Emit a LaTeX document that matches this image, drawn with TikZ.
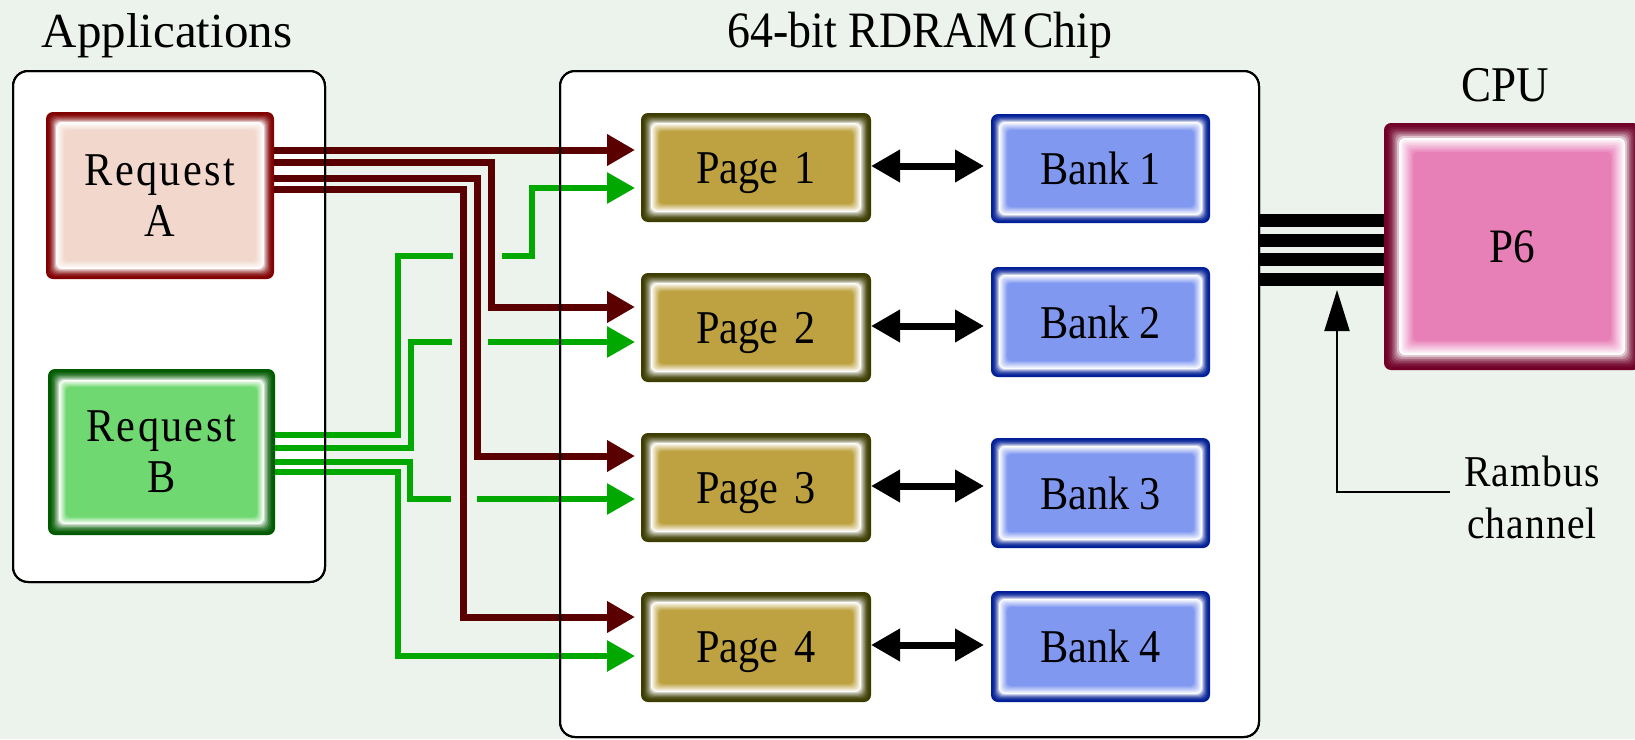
\documentclass[tikz,border=0pt]{standalone}
\usepackage{fontspec}
\setmainfont{Liberation Serif}
\newfontfamily\condfont{Liberation Serif}[FakeStretch=0.9]
\newfontfamily\spacedfont{Liberation Serif}[FakeStretch=0.9,LetterSpace=5]
\newfontfamily\spacedsmall{Liberation Serif}[FakeStretch=0.9,LetterSpace=2.5]
\usetikzlibrary{arrows.meta}
\definecolor{bgc}{RGB}{236,242,236}
\definecolor{reqaF}{RGB}{242,216,204}
\definecolor{reqaB}{RGB}{128,0,0}
\definecolor{reqbF}{RGB}{112,216,112}
\definecolor{reqbB}{RGB}{0,90,0}
\definecolor{pageF}{RGB}{190,162,66}
\definecolor{pageB}{RGB}{60,60,0}
\definecolor{bankF}{RGB}{128,152,240}
\definecolor{bankB}{RGB}{0,30,150}
\definecolor{cpuF}{RGB}{232,128,184}
\definecolor{cpuB}{RGB}{112,0,40}
\definecolor{lred}{RGB}{90,0,0}
\definecolor{lgreen}{RGB}{0,168,0}
\newcommand\bigtext{\condfont\fontsize{47}{51}\selectfont}
\newcommand\reqtext{\spacedfont\fontsize{47}{51}\selectfont}
\newcommand\mybox[7]{\node[#2, minimum width={#5-#3}, minimum height={#6-#4}] (#1) at ({(#3+#5)/2},{(#4+#6)/2}) {#7};}
\tikzset{
  bevel/.style n args={4}{fill=#1, rounded corners=7pt, inner sep=0pt, outer sep=0pt,
    align=center, font=\bigtext, text depth=0pt,
    path picture={
      \foreach \k in {1,...,8}{%
        \pgfmathsetmacro\ins{\k*#3/8}%
        \pgfmathsetmacro\pc{100*(1-(\k/8)^2)}%
        \fill[#1!\pc!white, rounded corners=6pt]
          ([shift={(\ins pt,\ins pt)}]path picture bounding box.south west) rectangle
          ([shift={(-\ins pt,-\ins pt)}]path picture bounding box.north east);
      }%
      \foreach \k in {1,...,8}{%
        \pgfmathsetmacro\ins{#3+\k*#4/8}%
        \pgfmathsetmacro\pc{100*\k/8}%
        \fill[#2!\pc!white, rounded corners=4pt]
          ([shift={(\ins pt,\ins pt)}]path picture bounding box.south west) rectangle
          ([shift={(-\ins pt,-\ins pt)}]path picture bounding box.north east);
      }%
    }},
  cont/.style={draw=black, line width=2pt, fill=white, rounded corners=15pt, inner sep=0pt, outer sep=0pt},
  contline/.style={draw=black, line width=2pt, rounded corners=15pt},
  title/.style={font=\fontsize{49}{52}\selectfont, anchor=base, inner sep=0pt},
  redln/.style={draw=lred, line width=7pt},
  grnln/.style={draw=lgreen, line width=6pt},
  tipr/.style={-{Triangle[length=28pt,width=30pt]}, shorten >=6pt},
  dbl/.style={line width=7pt, {Triangle[length=29pt,width=31pt]}-{Triangle[length=29pt,width=31pt]}, shorten >=7pt},
  busln/.style={line width=13pt, draw=black},
}
\begin{document}
\begin{tikzpicture}[x=1pt,y=-1pt]
\useasboundingbox (0,0) rectangle (1635,739);
\clip (0,0) rectangle (1635,739);
\fill[bgc] (0,0) rectangle (1635,739);

% containers
\mybox{apps}{cont}{13}{71}{325}{582}{}
\mybox{rdram}{cont}{560}{71}{1259}{737}{}

% titles
\node[title] (appstitle) at (167,47) {Applications};
\node[title, font=\condfont\fontsize{51}{52}\selectfont] (rdramtitle) at (920,47) {64-bit RDRAM\hspace{6pt}Chip};
\node[title, font=\condfont\fontsize{50}{52}\selectfont] (cputitle) at (1505,101) {CPU};

% request boxes
\mybox{reqa}{bevel={reqaB}{reqaF}{10}{8}, font=\reqtext}{46}{112}{274}{279}{Request\\A}
\mybox{reqb}{bevel={reqbB}{reqbF}{11}{7}, font=\reqtext}{48}{369}{275}{535}{Request\\B}

% pages
\mybox{page1}{bevel={pageB}{pageF}{10}{8}}{641}{113}{871}{222}{Page\hspace{6pt} 1}
\mybox{page2}{bevel={pageB}{pageF}{10}{8}}{641}{273}{871}{382}{Page\hspace{6pt} 2}
\mybox{page3}{bevel={pageB}{pageF}{10}{8}}{641}{433}{871}{542}{Page\hspace{6pt} 3}
\mybox{page4}{bevel={pageB}{pageF}{10}{8}}{641}{592}{871}{702}{Page\hspace{6pt} 4}

% banks
\mybox{bank1}{bevel={bankB}{bankF}{8}{8}}{991}{114}{1210}{223}{Bank 1}
\mybox{bank2}{bevel={bankB}{bankF}{8}{8}}{991}{267}{1210}{377}{Bank 2}
\mybox{bank3}{bevel={bankB}{bankF}{8}{8}}{991}{438}{1210}{548}{Bank 3}
\mybox{bank4}{bevel={bankB}{bankF}{8}{8}}{991}{591}{1210}{702}{Bank 4}

% cpu
\mybox{p6}{bevel={cpuB}{cpuF}{15}{14}, font=\condfont\fontsize{48}{51}\selectfont}{1384}{123}{1640}{370}{P6}

% red lines from Request A
\draw[redln, tipr] (reqa.east |- 0,150) -- (page1.west |- 0,150);
\draw[redln, tipr] (reqa.east |- 0,162) -| (491,307) -- (page2.west |- 0,307);
\draw[redln, tipr] (reqa.east |- 0,178) -| (477,456) -- (page3.west |- 0,456);
\draw[redln, tipr] (reqa.east |- 0,189) -| (463,617) -- (page4.west |- 0,617);

% green lines from Request B
\draw[grnln] (reqb.east |- 0,435) -| (398,256) -- (453,256);
\draw[grnln, tipr] (502,256) -| (532,188) -- (page1.west |- 0,188);
\draw[grnln] (reqb.east |- 0,448) -| (411,342) -- (452,342);
\draw[grnln, tipr] (488,342) -- (page2.west |- 0,342);
\draw[grnln] (reqb.east |- 0,462) -| (410,499) -- (451,499);
\draw[grnln, tipr] (477,499) -- (page3.west |- 0,499);
\draw[grnln, tipr] (reqb.east |- 0,472) -| (398,656) -- (page4.west |- 0,656);

% container borders on top
\draw[contline] (apps.south west) rectangle (apps.north east);
\draw[contline] (rdram.south west) rectangle (rdram.north east);

% page <-> bank
\draw[dbl] (page1.east |- 0,166) -- (bank1.west |- 0,166);
\draw[dbl] (page2.east |- 0,326) -- (bank2.west |- 0,326);
\draw[dbl] (page3.east |- 0,486) -- (bank3.west |- 0,486);
\draw[dbl] (page4.east |- 0,645) -- (bank4.west |- 0,645);

% Rambus channel bus
\foreach \yy in {220,240,259,279}{
  \draw[busln] (rdram.east |- 0,\yy) -- (p6.west |- 0,\yy);
}

% Rambus label
\node[font=\spacedsmall\fontsize{44}{52}\selectfont, align=center, inner sep=0pt] (rambus) at (1532,497) {Rambus\\channel};
\coordinate (rambusend) at (1450,492);
\coordinate (bustip) at (1337,290);
\draw[line width=2pt, -{Triangle[length=41pt,width=25pt]}] (rambusend) -| (bustip);
\end{tikzpicture}
\end{document}
